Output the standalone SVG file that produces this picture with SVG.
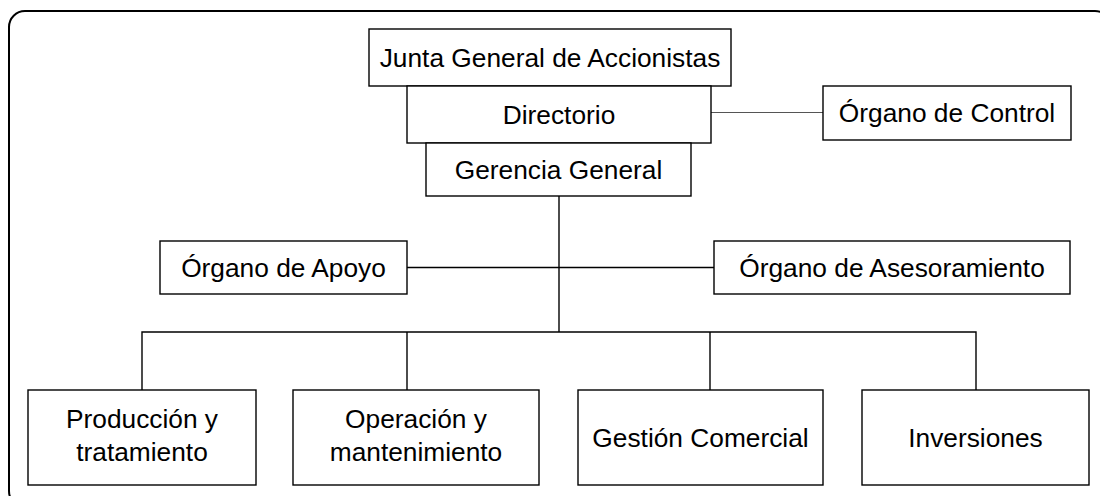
<svg xmlns="http://www.w3.org/2000/svg" width="1100" height="496" viewBox="0 0 1100 496">
<style>
.box{fill:#ffffff;stroke:#000000;stroke-width:1.4}
.lbl{font-family:"Liberation Sans",Arial,sans-serif;font-size:26.3px;fill:#000000;text-anchor:middle}
.con{fill:none;stroke:#000000;stroke-width:1.4}
.con2{fill:none;stroke:#555555;stroke-width:1.2}
</style>
<rect x="9" y="11" width="1102" height="496" rx="16" ry="16" fill="#ffffff" stroke="#000000" stroke-width="2"/>
<g id="connectors">
<line class="con2" x1="711" y1="112.5" x2="823" y2="112.5"/>
<line class="con" x1="559" y1="196" x2="559" y2="332"/>
<line class="con" x1="407" y1="267.5" x2="714" y2="267.5"/>
<polyline class="con" points="142,390 142,332 976,332 976,390"/>
<line class="con" x1="407" y1="332" x2="407" y2="390"/>
<line class="con" x1="710" y1="332" x2="710" y2="390"/>
</g>
<g id="junta">
<rect class="box" x="369" y="29" width="362" height="57"/>
<text class="lbl" x="550" y="66.5">Junta General de Accionistas</text>
</g>
<g id="directorio">
<rect class="box" x="407" y="86" width="304" height="57"/>
<text class="lbl" x="559" y="123.5">Directorio</text>
</g>
<g id="gerencia">
<rect class="box" x="426" y="143" width="265" height="53"/>
<text class="lbl" x="558.5" y="178.5">Gerencia General</text>
</g>
<g id="control">
<rect class="box" x="823" y="86" width="248" height="54"/>
<text class="lbl" x="947" y="121.5">Órgano de Control</text>
</g>
<g id="apoyo">
<rect class="box" x="160" y="241" width="247" height="53"/>
<text class="lbl" x="283.5" y="276.5">Órgano de Apoyo</text>
</g>
<g id="asesoramiento">
<rect class="box" x="714" y="241" width="356" height="53"/>
<text class="lbl" x="892" y="276.5">Órgano de Asesoramiento</text>
</g>
<g id="produccion">
<rect class="box" x="28" y="390" width="228" height="95"/>
<text class="lbl" x="142" y="428">Producción y</text>
<text class="lbl" x="142" y="460.5">tratamiento</text>
</g>
<g id="operacion">
<rect class="box" x="293" y="390" width="246" height="95"/>
<text class="lbl" x="416" y="428">Operación y</text>
<text class="lbl" x="416" y="460.5">mantenimiento</text>
</g>
<g id="comercial">
<rect class="box" x="578" y="390" width="245" height="95"/>
<text class="lbl" x="700.5" y="446.5">Gestión Comercial</text>
</g>
<g id="inversiones">
<rect class="box" x="862" y="390" width="227" height="95"/>
<text class="lbl" x="975.5" y="446.5">Inversiones</text>
</g>
</svg>
